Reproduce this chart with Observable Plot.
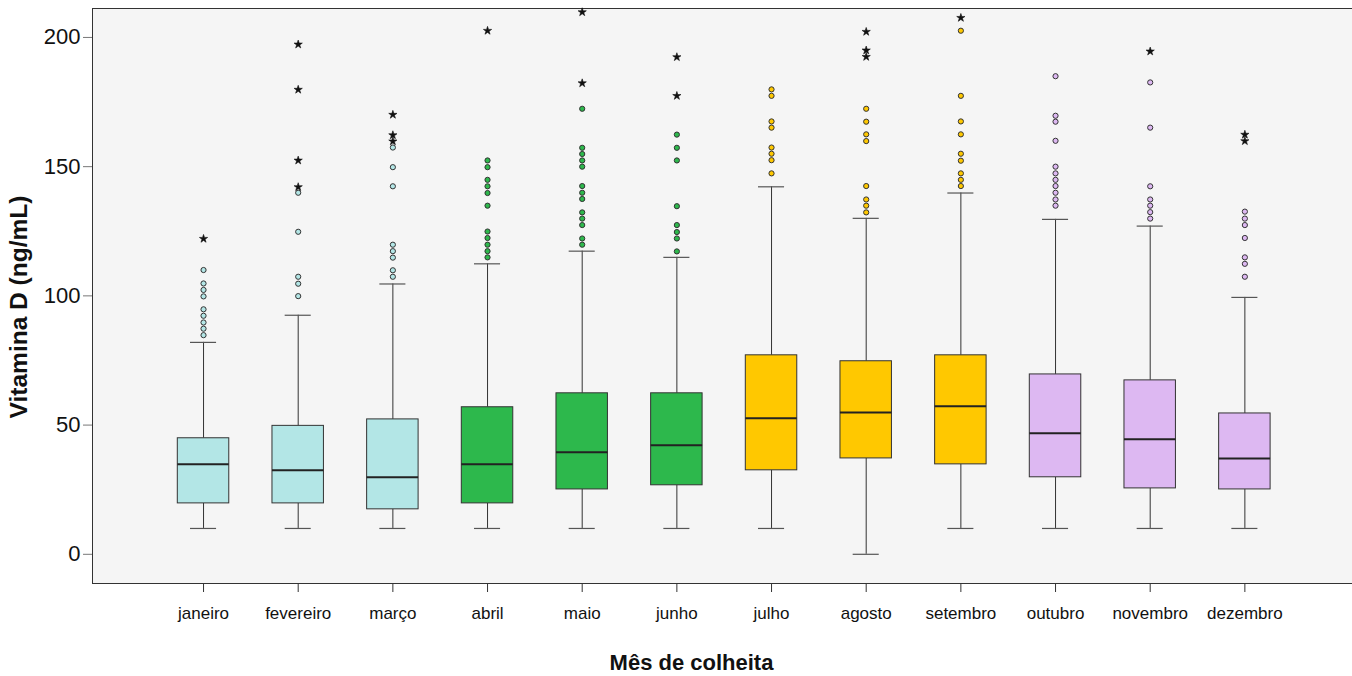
<!DOCTYPE html>
<html>
<head>
<meta charset="utf-8">
<script src="https://cdn.jsdelivr.net/npm/d3@7"></script>
<script src="https://cdn.jsdelivr.net/npm/@observablehq/plot@0.6"></script>
<style>
  html, body { margin: 0; padding: 0; background: white; }
  #chart svg { display: block; }
</style>
</head>
<body>
<div id="chart"></div>
<script>
const months = ["janeiro","fevereiro","março","abril","maio","junho","julho","agosto","setembro","outubro","novembro","dezembro"];
const boxColors = ["#b3e6e6","#b3e6e6","#b3e6e6","#2db84c","#2db84c","#2db84c","#ffc800","#ffc800","#ffc800","#ddb8f2","#ddb8f2","#ddb8f2"];
const whiskerLow = [10,10,10,10,10,10,10,0,10,10,10,10];
const q1 = [19.7,19.7,17.4,19.7,25.1,26.7,32.5,37.1,34.8,29.8,25.5,25.1];
const median = [34.8,32.5,29.8,34.8,39.5,42.2,52.6,54.9,57.3,46.8,44.5,37.1];
const q3 = [44.9,49.7,52.2,56.9,62.3,62.3,77,74.7,77,69.6,67.3,54.5];
const whiskerHigh = [82,92.5,104.6,112.4,117.3,114.9,142.2,130,139.8,129.6,127,99.4];
const outliers = [
  [110,104.8,102.3,99.8,94.8,92.3,89.7,87.3,84.8],
  [139.9,124.8,107.4,104.7,99.9],
  [157.4,149.8,142.4,119.8,117.3,114.8,109.9,107.4],
  [152.4,149.8,144.9,142.4,139.8,134.9,124.9,122.4,119.8,117.3,114.9],
  [172.4,157.3,154.9,152.4,150,142.5,139.9,137.5,132.3,129.9,127.4,122.2,119.8],
  [162.4,157.3,152.4,134.7,127.4,124.7,122.2,117.2],
  [179.9,177.4,167.5,165.1,157.4,155,152.5,147.4],
  [172.4,167.4,162.5,159.9,142.5,137.3,134.9,132.3],
  [202.6,177.4,167.5,162.5,155,152.3,147.4,144.9,142.5],
  [185,169.7,167.4,160,150,147.4,144.9,142.5,139.9,137.3,134.9],
  [182.6,165.1,142.4,137.3,134.9,132.4,129.9],
  [132.6,129.9,127.4,122.4,114.9,112.4,107.4]
];
const extremes = [
  [122.1],
  [197.3,179.8,152.4,142.1],
  [170.1,162.2,159.8],
  [202.6],
  [209.8,182.3],
  [192.4,177.4],
  [],
  [202.2,195,192.5],
  [207.6],
  [],
  [194.6],
  [162.4,159.9]
];
const yTicks = [0,50,100,150,200];

const boxes = months.map((m,i) => ({month:m, color:boxColors[i], lo:whiskerLow[i], q1:q1[i], med:median[i], q3:q3[i], hi:whiskerHigh[i]}));
const circles = months.flatMap((m,i) => outliers[i].map(v => ({month:m, v, color:boxColors[i]})));
const stars = months.flatMap((m,i) => extremes[i].map(v => ({month:m, v})));

const chart = Plot.plot({
  width: 1352,
  height: 676,
  marginLeft: 92,
  marginRight: 0,
  marginTop: 8,
  marginBottom: 93,
  insetLeft: 63.7,
  insetRight: 60.3,
  x: {domain: months, padding: 0, round: false, label: null},
  y: {domain: [-11.3, 211.2], label: null},
  color: {type: "identity"},
  style: {fontFamily: "'Liberation Sans', Arial, sans-serif", background: "white", color: "#111"},
  marks: [
    Plot.frame({fill: "#f5f5f5", stroke: "#333"}),
    Plot.ruleX(boxes, {x: "month", y1: "lo", y2: "q1", stroke: "#333"}),
    Plot.ruleX(boxes, {x: "month", y1: "q3", y2: "hi", stroke: "#333"}),
    Plot.tickY(boxes, {x: "month", y: "lo", insetLeft: 34.3, insetRight: 34.3, stroke: "#555", strokeWidth: 1.2}),
    Plot.tickY(boxes, {x: "month", y: "hi", insetLeft: 34.3, insetRight: 34.3, stroke: "#555", strokeWidth: 1.2}),
    Plot.barY(boxes, {x: "month", y1: "q1", y2: "q3", fill: "color", stroke: "#333", strokeWidth: 1, insetLeft: 21.6, insetRight: 21.6}),
    Plot.tickY(boxes, {x: "month", y: "med", insetLeft: 21.6, insetRight: 21.6, stroke: "#222", strokeWidth: 2}),
    Plot.dot(circles, {x: "month", y: "v", r: 2.6, fill: "color", stroke: "#333", strokeWidth: 1}),
    Plot.dot(stars, {x: "month", y: "v", symbol: "star", r: 2.6, fill: "#111", stroke: "#111", strokeWidth: 0.6}),
    Plot.axisY({ticks: yTicks, tickSize: 9, tickPadding: 3, fontSize: 22, label: null, stroke: "#777"}),
    Plot.axisX({tickSize: 9, tickPadding: 14, fontSize: 17, label: null, stroke: "#333"}),
    Plot.text(["Vitamina D (ng/mL)"], {frameAnchor: "left", textAnchor: "middle", dx: -73, dy: 11, rotate: -90, fontSize: 24.5, fontWeight: "bold", fill: "#111"}),
    Plot.text(["Mês de colheita"], {frameAnchor: "bottom", textAnchor: "middle", dx: -31, dy: 86, fontSize: 22, fontWeight: "bold", fill: "#111"})
  ]
});
document.getElementById("chart").appendChild(chart);
</script>
</body>
</html>
